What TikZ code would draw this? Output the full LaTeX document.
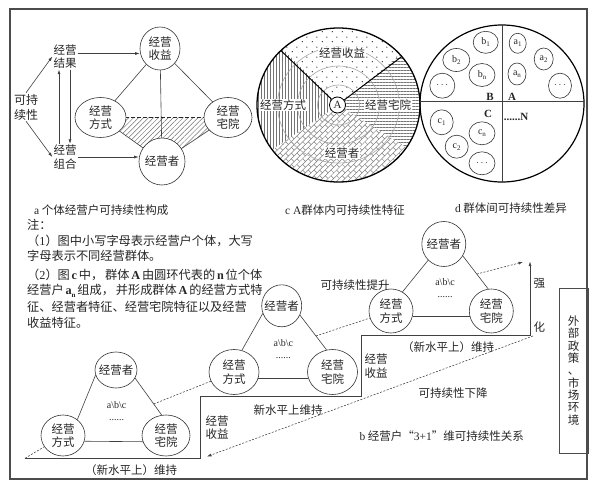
\documentclass[tikz,border=0pt]{standalone}
\usepackage{fontspec}
\setmainfont{Liberation Serif}
\newfontfamily\zh{Noto Sans CJK SC}
\usetikzlibrary{patterns,patterns.meta,arrows.meta,shapes.geometric,calc}
\pgfdeclarelayer{bg}
\pgfsetlayers{bg,main}
\newcommand\zf{\zh\fontsize{11.5}{13.5}\selectfont}
\newcommand\nf{\zh\fontsize{12.2}{15}\selectfont}
\newcommand\lat[1]{{\rmfamily #1}}
\newcommand\sbs[2]{{\rmfamily #1\raisebox{-0.45ex}{\fontsize{7}{7}\selectfont #2}}}
\tikzdeclarepattern{
  name=rotbricks,
  type=uncolored,
  bottom left={(-.5pt,-.5pt)},
  top right={(8.5pt,8.5pt)},
  tile size={(8pt,8pt)},
  tile transformation={rotate=45},
  code={
    \draw[line width=0.5pt] (0pt,0pt) -- (8pt,0pt) (0pt,4pt) -- (8pt,4pt)
      (0pt,0pt) -- (0pt,4pt) (4pt,4pt) -- (4pt,8pt);
  }
}
\tikzdeclarepattern{
  name=mydots,
  type=uncolored,
  bottom left={(0pt,0pt)},
  top right={(10pt,10pt)},
  tile size={(10pt,10pt)},
  code={
    \fill (2.5pt,2.5pt) circle [radius=0.75pt];
    \fill (7.5pt,7.5pt) circle [radius=0.75pt];
  }
}
\begin{document}
\begin{tikzpicture}[x=1pt,y=-1pt,
  every node/.style={font=\zf, inner sep=1pt, text=black!85},
  ln/.style={draw=black!75, line width=0.6pt},
  arr/.style={ln, -{Latex[length=4.5pt,width=3pt]}},
  dsh/.style={draw=black!75, line width=0.55pt, dash pattern=on 2pt off 1.5pt},
  ov/.style n args={3}{ellipse, draw=black!80, line width=0.6pt, fill=white,
     minimum width=#1, minimum height=#2, inner sep=0pt,
     label={[align=center]center:#3}},
  sm/.style 2 args={ellipse, draw=black!80, line width=0.6pt, fill=white,
     minimum width=#1, minimum height=#2, inner sep=0pt,
     font=\rmfamily\fontsize{10}{10}\selectfont},
  lbl/.style={fill=white, inner sep=1pt},
  smt/.style={font=\rmfamily\fontsize{10}{10}\selectfont},
  note/.style={font=\nf, anchor=west, inner sep=0pt},
]
\begin{pgfonlayer}{bg}
\fill[white] (0,0) rectangle (610,484);
\end{pgfonlayer}
% outer frame
\draw[black!70, line width=1.3pt] (10,9) rectangle (587,479);

% ================= panel a =================
\node[ov={40pt}{43pt}{经营\\收益}] (sy) at (160,48.5) {};
\node[ov={51pt}{40pt}{经营\\方式}] (fs) at (100.5,117.5) {};
\node[ov={48pt}{40pt}{经营\\宅院}] (zy) at (228,117.5) {};
\node[ov={46pt}{47pt}{经营者}] (jyz) at (162,161.5) {};
\begin{pgfonlayer}{bg}
\fill[pattern={Lines[angle=45,distance=3.5pt,line width=0.5pt]}, pattern color=black!55]
  (fs.center) -- (zy.center) -- (jyz.center) -- cycle;
\draw[ln] (sy.center) -- (fs.center);
\draw[ln] (sy.center) -- (zy.center);
\draw[ln] (sy.center) -- (jyz.center);
\draw[ln] (fs.center) -- (jyz.center);
\draw[ln] (zy.center) -- (jyz.center);
\draw[black!85, line width=0.9pt, dash pattern=on 4pt off 2pt] (fs.center) -- (zy.center);
\end{pgfonlayer}
\node[align=center, font=\zh\fontsize{12}{15}\selectfont] (kcx) at (26,107) {可持\\续性};
\node[align=center] (jgjg) at (65,56.5) {经营\\结果};
\node[align=center] (jgzh) at (65,157) {经营\\组合};
\draw[arr] (kcx.north) -- (jgjg.west);
\draw[arr] (kcx.south) -- (jgzh.west);
\draw[arr] ([xshift=-6pt]jgzh.north) -- ([xshift=-6pt]jgjg.south);
\draw[arr] ([xshift=5pt]jgjg.south) -- ([xshift=5pt]jgzh.north);
\coordinate (pa) at ([yshift=3pt]jgjg.east);
\draw[arr] (pa) -- (pa -| sy.west);
\draw[arr] (jgzh.east) -- (jgzh.east -| jyz.west);
\node[anchor=west] (capa) at (33,210) {\lat{a}\ 个体经营户可持续性构成};

% ================= panel c =================
\coordinate (C) at (338.5,105);
\begin{scope}
\clip (338.5,105) -- (493.9,-20.8) -- (338.5,-95) -- (197.1,-36.4) -- cycle;
\fill[pattern=mydots, pattern color=black!80] (C) ellipse [x radius=81.5pt, y radius=77pt];
\end{scope}
\begin{scope}
\clip (338.5,105) -- (197.1,-36.4) -- (138.5,105) -- (172.7,216.8) -- cycle;
\fill[pattern={Lines[angle=90,distance=3pt,line width=0.45pt]}, pattern color=black!55] (C) ellipse [x radius=81.5pt, y radius=77pt];
\end{scope}
\begin{scope}
\clip (338.5,105) -- (172.7,216.8) -- (338.5,305) -- (508.1,211) -- cycle;
\fill[pattern=rotbricks, pattern color=black!50] (C) ellipse [x radius=81.5pt, y radius=77pt];
\end{scope}
\begin{scope}
\clip (338.5,105) -- (508.1,211) -- (538.5,105) -- (493.9,-20.8) -- cycle;
\fill[pattern={Lines[angle=0,distance=3pt,line width=0.45pt]}, pattern color=black!55] (C) ellipse [x radius=81.5pt, y radius=77pt];
\end{scope}
\foreach \r/\s in {21/20,41/39,61/58}
  \draw[black!35, line width=0.6pt] (C) ellipse [x radius=\r pt, y radius=\s pt];
\draw[black, line width=1.3pt] (C) ellipse [x radius=81.5pt, y radius=77pt];
\node[circle, draw=black, line width=0.8pt, fill=white, inner sep=0pt, minimum size=16pt,
      font=\rmfamily\fontsize{11}{11}\selectfont] (cA) at (337.5,105) {A};
\coordinate (cb1) at (280.9,50.6);
\coordinate (cb2) at (401.8,56.5);
\draw[black, line width=1pt] (cA) -- (cb1);
\draw[black, line width=1pt] (cA) -- (cb2);
\node[lbl] (lsy) at (342,53) {经营收益};
\node[lbl] (lfs) at (283,105) {经营方式};
\node[lbl] (lzy) at (388,105) {经营宅院};
\node[lbl] (lzz) at (342,153) {经营者};
\node (capc) at (345,210) {\lat{c A}群体内可持续性特征};

% ================= panel d =================
\draw[black, line width=1.2pt] (502,103.5) ellipse [x radius=82pt, y radius=78.5pt];
\draw[black!75, line width=0.7pt] (502,25) -- (502,182);
\draw[black!75, line width=0.7pt] (420,101) -- (584,101);
\node[sm={25pt}{22pt}] (b1) at (485.7,42.3) {\sbs{b}{1}};
\node[sm={27pt}{23pt}] (b2) at (456.3,60) {\sbs{b}{2}};
\node[sm={26pt}{23pt}] (bn) at (482,75) {\sbs{b}{n}};
\node[sm={25pt}{25pt}] (bd) at (442.3,85.7) {$\cdots$};
\node[sm={17pt}{20pt}] (a1) at (517.7,43.3) {\sbs{a}{1}};
\node[sm={19pt}{22pt}] (a2) at (543.7,59) {\sbs{a}{2}};
\node[sm={18pt}{22pt}] (an) at (517,74) {\sbs{a}{n}};
\node[sm={23pt}{25pt}] (ad) at (560,85.7) {$\cdots$};
\node[sm={23pt}{25pt}] (c1) at (441.7,122.3) {\sbs{c}{1}};
\node[sm={23pt}{23pt}] (c2) at (456.7,146.7) {\sbs{c}{2}};
\node[sm={26pt}{23pt}] (cn) at (482,133.3) {\sbs{c}{n}};
\node[sm={26pt}{23pt}] (cd) at (482,163.3) {$\cdots$};
\node[font=\rmfamily\bfseries\fontsize{11}{11}\selectfont] (LB) at (490,97) {B};
\node[font=\rmfamily\bfseries\fontsize{11}{11}\selectfont] (LA) at (512,97) {A};
\node[font=\rmfamily\bfseries\fontsize{11}{11}\selectfont] (LC) at (488,114) {C};
\node[font=\rmfamily\bfseries\fontsize{11}{11}\selectfont] (LN) at (516,117) {......N};
\node (capd) at (511,208) {\lat{d} 群体间可持续性差异};

% ================= notes =================
\node[note] (n0) at (27,225) {注：};
\node[note] (n1) at (27,241) {\makebox[220pt][l]{（\lat{1}）图中小写字母表示经营户个体，大写}};
\node[note] (n2) at (27,256) {字母表示不同经营群体。};
\node[note] (n3) at (27,275) {\makebox[220pt][s]{（\lat{2}）图 \lat{\textbf{c}} 中， 群体 \lat{\textbf{A}} 由圆环代表的 \lat{\textbf{n}} 位个体}};
\node[note] (n4) at (27,291) {\makebox[220pt][s]{经营户 \sbs{\textbf{a}}{\textbf{n}} 组成， 并形成群体 \lat{\textbf{A}} 的经营方式特}};
\node[note] (n5) at (27,307) {\makebox[220pt][l]{征、经营者特征、经营宅院特征以及经营}};
\node[note] (n6) at (27,323) {收益特征。};

% ================= panel b =================
% triangle 1
\node[ov={42pt}{36pt}{经营者}] (t1z) at (116,370) {};
\node[ov={44pt}{41pt}{经营\\方式}] (t1f) at (63,435.5) {};
\node[ov={48pt}{41pt}{经营\\宅院}] (t1y) at (166,435.5) {};
\node[smt] (t1a) at (116.7,405) {a\textbackslash b\textbackslash c};
\node[smt] (t1d) at (116.7,420) {......};
% triangle 2
\node[ov={40pt}{42pt}{经营者}] (t2z) at (281.7,305.8) {};
\node[ov={50pt}{45pt}{经营\\方式}] (t2f) at (234,372) {};
\node[ov={50pt}{45pt}{经营\\宅院}] (t2y) at (332.5,372) {};
\node[smt] (t2a) at (283.3,343.3) {a\textbackslash b\textbackslash c};
\node[smt] (t2d) at (283.3,358.3) {......};
% triangle 3
\node[ov={44pt}{45pt}{经营者}] (t3z) at (443.8,244) {};
\node[ov={44pt}{44pt}{经营\\方式}] (t3f) at (391,311) {};
\node[ov={44pt}{44pt}{经营\\宅院}] (t3y) at (491.3,311) {};
\node[smt] (t3a) at (445,281.7) {a\textbackslash b\textbackslash c};
\node[smt] (t3d) at (445,297.3) {......};
% triangle edges
\draw[ln] (t1z.194) -- (t1f.48);
\draw[ln] (t1z.-23) -- (t1y.102);
\draw[ln] (t1f.-15) -- (t1y.195);
\draw[ln] (t2z.202) -- (t2f.70);
\draw[ln] (t2z.-27) -- (t2y.105);
\draw[ln] (t2f.-15) -- (t2y.195);
\draw[ln] (t3z.226) -- (t3f.59);
\draw[ln] (t3z.-32) -- (t3y.98);
\draw[ln] (t3f.-15) -- (t3y.195);
% staircase
\coordinate (s0) at (25,458.3);
\coordinate (s1) at (200,458.3);
\coordinate (s2) at (200,396.7);
\coordinate (s3) at (361.7,396.7);
\coordinate (s4) at (361.7,335);
\coordinate (s5) at (530,335);
\coordinate (s6) at (530,261.5);
\draw[arr] (s0) -- (s1) -- (s2) -- (s3) -- (s4) -- (s5) -- (s6);
% dashed links
\coordinate (e1) at ($(t1z.-23)!0.7!(t1y.102)$);
\coordinate (e2) at ($(t2z.-27)!0.6!(t2y.105)$);
\coordinate (e3) at ($(t3z.-32)!0.55!(t3y.98)$);
\coordinate (e3t) at (523,262);
\draw[dsh] (s0) -- (t1f);
\draw[dsh] (e1) -- (t2f);
\draw[dsh] (e2) -- (t3f);
\draw[dsh, -{Latex[length=4.5pt,width=3pt]}] (e3) -- (e3t);
\coordinate (d5s) at (533,336);
\coordinate (d5e) at (207,456.5);
\draw[dsh, -{Latex[length=4.5pt,width=3pt]}] (d5s) -- (d5e);
% texts
\node (up) at (355,285) {可持续性提升};
\node (down) at (453,393) {可持续性下降};
\node (capb) at (441.7,436) {\lat{b}\ 经营户“\lat{3+1}”维可持续性关系};
\node (nl1) at (448,346.7) {（新水平上）维持};
\node (nl2) at (131,470) {（新水平上）维持};
\node (nl3) at (288,410) {新水平上维持};
\node[align=left] (sy2) at (376,366) {经营\\收益};
\node[align=left] (sy1) at (217,427.5) {经营\\收益};
\node (qiang) at (539.3,283.3) {强};
\node (hua) at (539.3,327) {化};
% external box
\node[draw=black!70, line width=0.8pt, minimum width=29pt, minimum height=165pt,
      inner sep=0pt, align=center, font=\zh\fontsize{11.5}{12.3}\selectfont]
  (ext) at (573.5,370.5) {外\\部\\政\\策\\、\\市\\场\\环\\境};
\pgfresetboundingbox
\useasboundingbox (0,0) rectangle (610,484);
\end{tikzpicture}
\end{document}
